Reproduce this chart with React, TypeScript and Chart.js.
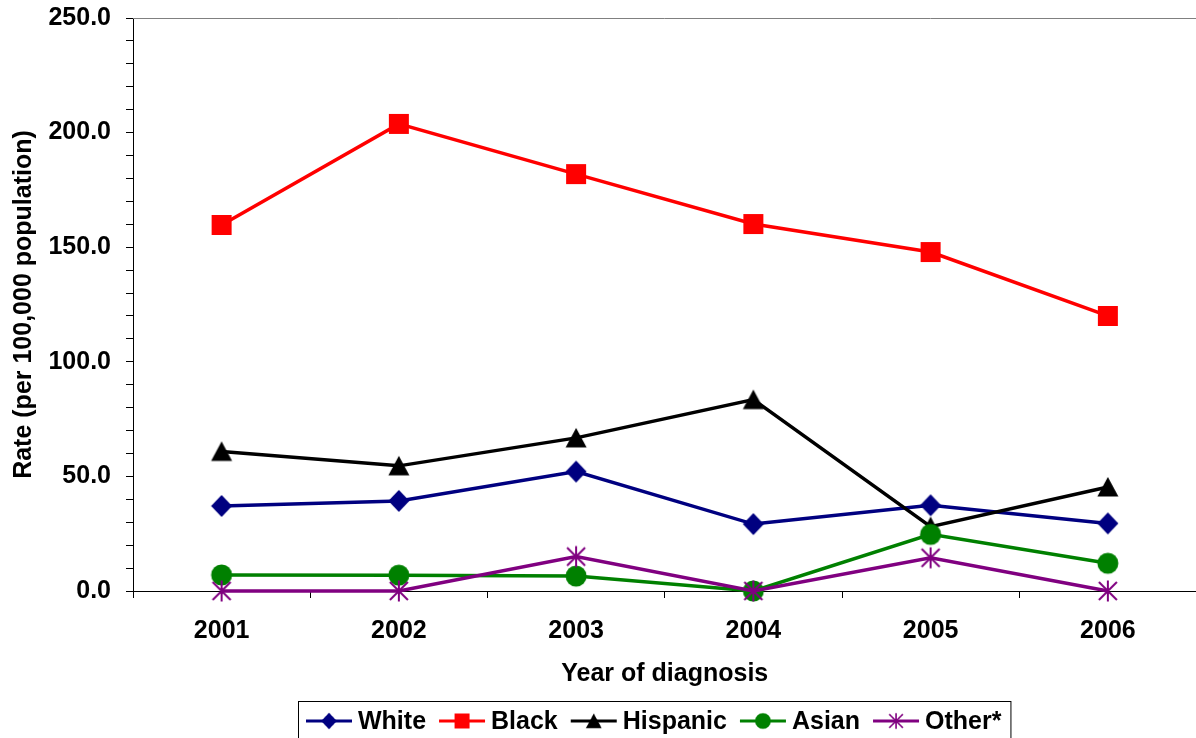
import React, { useEffect, useRef } from 'react';
import { Chart, registerables } from 'chart.js';

Chart.register(...registerables);

// ---- data ----
const years = ['2001', '2002', '2003', '2004', '2005', '2006'];
const whiteRates = [37.1, 39.3, 52.1, 29.2, 37.4, 29.5];
const blackRates = [159.7, 203.8, 181.9, 160.1, 147.9, 120.0];
const hispanicRates = [60.9, 54.6, 66.8, 83.5, 28.1, 45.4];
const asianRates = [7.0, 6.9, 6.5, 0.0, 24.7, 12.1];
const otherRates = [0.0, 0.0, 15.0, 0.0, 14.5, 0.0];
const seriesNames = ['White', 'Black', 'Hispanic', 'Asian', 'Other*'];
const seriesColors = ['#000080', '#FF0000', '#000000', '#008000', '#800080'];
const seriesMarkers = ['diamond', 'square', 'triangle', 'circle', 'asterisk'];
const yMin = 0;
const yMax = 250;
const yMinorStep = 10;
const yLabelStep = 50;
const xTitle = 'Year of diagnosis';
const yTitle = 'Rate (per 100,000 population)';

const FAMILY = "'Liberation Sans', Arial, Helvetica, sans-serif";
const CANVAS_W = 1210;
const CANVAS_H = 738;

function makeMarker(kind: string, color: string): HTMLCanvasElement {
  const s = 24;
  const c = document.createElement('canvas');
  c.width = s;
  c.height = s;
  const g = c.getContext('2d')!;
  const m = s / 2;
  g.fillStyle = color;
  g.strokeStyle = color;
  g.beginPath();
  if (kind === 'diamond') {
    g.moveTo(m, m - 11);
    g.lineTo(m + 10.5, m);
    g.lineTo(m, m + 11);
    g.lineTo(m - 10.5, m);
    g.closePath();
    g.fill();
  } else if (kind === 'square') {
    g.rect(m - 10, m - 10, 20, 20);
    g.fill();
  } else if (kind === 'triangle') {
    g.moveTo(m, m - 10);
    g.lineTo(m + 10.5, m + 9.5);
    g.lineTo(m - 10.5, m + 9.5);
    g.closePath();
    g.fill();
  } else if (kind === 'circle') {
    g.arc(m, m, 10.5, 0, Math.PI * 2);
    g.fill();
  } else {
    g.lineWidth = 2;
    g.moveTo(m - 9, m - 9);
    g.lineTo(m + 9, m + 9);
    g.moveTo(m + 9, m - 9);
    g.lineTo(m - 9, m + 9);
    g.moveTo(m, m - 10.5);
    g.lineTo(m, m + 10.5);
    g.stroke();
  }
  return c;
}

export default function App() {
  const ref = useRef<HTMLCanvasElement>(null);

  useEffect(() => {
    if (!ref.current) return;
    const allSeries = [whiteRates, blackRates, hispanicRates, asianRates, otherRates];
    const markers = seriesMarkers.map((k, i) => makeMarker(k, seriesColors[i]));

    const datasets = allSeries.map((vals, i) => ({
      label: seriesNames[i],
      data: vals,
      borderColor: seriesColors[i],
      backgroundColor: seriesColors[i],
      borderWidth: 3.5,
      tension: 0,
      pointStyle: markers[i],
      pointRadius: 10,
      pointHoverRadius: 10,
      clip: false as any,
      order: allSeries.length - i,
    }));

    const borderPlugin = {
      id: 'plotBorder',
      beforeDatasetsDraw(chart: any) {
        const { ctx, chartArea } = chart;
        ctx.save();
        ctx.strokeStyle = '#808080';
        ctx.lineWidth = 1;
        ctx.beginPath();
        ctx.moveTo(chartArea.left, Math.round(chartArea.top) + 0.5);
        ctx.lineTo(chartArea.right, Math.round(chartArea.top) + 0.5);
        ctx.lineTo(chartArea.right, chartArea.bottom);
        ctx.stroke();
        ctx.restore();
      },
    };

    const legendPlugin = {
      id: 'boxLegend',
      afterDraw(chart: any) {
        const { ctx, chartArea } = chart;
        ctx.save();
        ctx.font = `bold 25px ${FAMILY}`;
        ctx.textBaseline = 'middle';
        ctx.textAlign = 'left';
        const lineLen = 46;
        const gapText = 6;
        const itemGap = 13;
        const padL = 8;
        const padR = 9;
        const widths = seriesNames.map((n) => ctx.measureText(n).width);
        let total = padL + padR + itemGap * (seriesNames.length - 1);
        widths.forEach((w) => (total += lineLen + gapText + w));
        const center = (chartArea.left + chartArea.right) / 2 - 10.5;
        const left = Math.round(center - total / 2);
        const cy = chart.height - 17;
        const top = Math.round(cy - 20) + 0.5;
        ctx.strokeStyle = '#000';
        ctx.lineWidth = 1;
        ctx.strokeRect(left + 0.5, top, total, 60);
        let x = left + padL;
        seriesNames.forEach((n, i) => {
          ctx.strokeStyle = seriesColors[i];
          ctx.lineWidth = 3;
          ctx.beginPath();
          ctx.moveTo(x, cy);
          ctx.lineTo(x + lineLen, cy);
          ctx.stroke();
          const ms = 18;
          ctx.drawImage(markers[i], x + lineLen / 2 - ms / 2, cy - ms / 2, ms, ms);
          ctx.fillStyle = '#000';
          ctx.fillText(n, x + lineLen + gapText, cy + 1);
          x += lineLen + gapText + widths[i] + itemGap;
        });
        ctx.restore();
      },
    };

    const font = { family: FAMILY, size: 25, weight: 'bold' as const };

    const chart = new Chart(ref.current, {
      type: 'line',
      data: { labels: years, datasets: datasets as any },
      options: {
        responsive: false,
        animation: false,
        devicePixelRatio: 1,
        layout: { padding: { top: 18, left: 0, right: 7, bottom: 37 } },
        plugins: {
          legend: { display: false },
          tooltip: { enabled: false },
        },
        scales: {
          x: {
            type: 'category',
            offset: true,
            grid: { offset: true, drawOnChartArea: false, drawTicks: true, tickLength: 7, color: '#000' },
            border: { display: true, color: '#000', width: 1 },
            ticks: { color: '#000', font, padding: 18, autoSkip: false, maxRotation: 0 },
            title: { display: true, text: xTitle, color: '#000', font, padding: { top: 0, bottom: 12 } },
            afterFit: (s: any) => {
              s.height = 110;
            },
          },
          y: {
            min: yMin,
            max: yMax,
            ticks: {
              stepSize: yMinorStep,
              autoSkip: false,
              color: '#000',
              font,
              padding: 15,
              callback: (v: any) => (Number(v) % yLabelStep === 0 ? Number(v).toFixed(1) : ''),
            },
            grid: { drawOnChartArea: false, drawTicks: true, tickLength: 7, color: '#000' },
            border: { display: true, color: '#000', width: 1 },
            title: { display: true, text: yTitle, color: '#000', font, padding: { top: 9, bottom: 0 } },
            afterFit: (s: any) => {
              s.width = 133;
              s.paddingTop = 0;
              s.paddingBottom = 0;
            },
          },
        },
      },
      plugins: [borderPlugin, legendPlugin],
    });
    return () => chart.destroy();
  }, []);

  return (
    <div
      style={{
        position: 'fixed',
        left: 0,
        top: 0,
        width: 1196,
        height: 738,
        overflow: 'hidden',
        background: '#fff',
      }}
    >
      <canvas ref={ref} width={CANVAS_W} height={CANVAS_H} style={{ display: 'block' }} />
    </div>
  );
}
